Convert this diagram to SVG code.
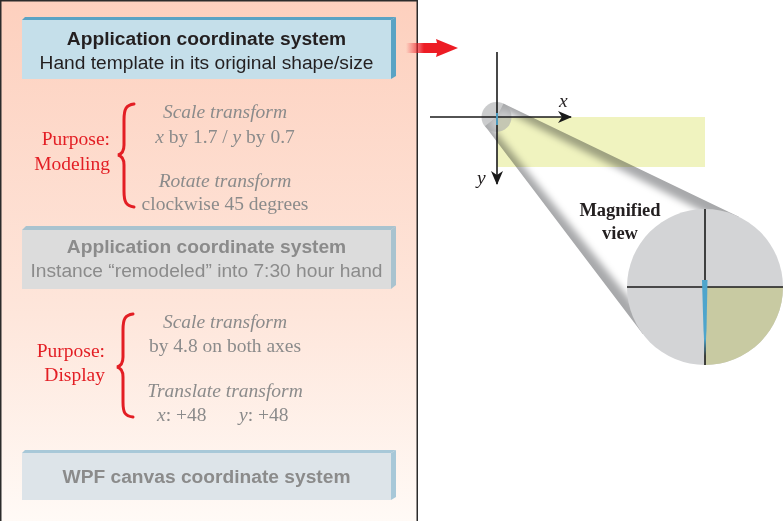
<svg xmlns="http://www.w3.org/2000/svg" width="783" height="521" viewBox="0 0 783 521">
<defs>
<linearGradient id="panelBg" x1="0" y1="0" x2="0" y2="1">
<stop offset="0" stop-color="#fdd0be"/>
<stop offset="0.6" stop-color="#fee6db"/>
<stop offset="1" stop-color="#fffaf6"/>
</linearGradient>
<linearGradient id="redFade" gradientUnits="userSpaceOnUse" x1="406" y1="0" x2="424" y2="0">
<stop offset="0" stop-color="#ed1c24" stop-opacity="0"/>
<stop offset="1" stop-color="#ed1c24"/>
</linearGradient>
<clipPath id="coneClip">
<polygon points="503.5,103.5 738.8,216.7 705,287 642.8,334.1 485,126 497,117"/>
</clipPath>
<filter id="blur" x="-20%" y="-20%" width="140%" height="140%">
<feGaussianBlur stdDeviation="3.5"/>
</filter>
<marker id="ah" viewBox="0 0 14 12" markerWidth="14" markerHeight="12" refX="13" refY="6" orient="auto" markerUnits="userSpaceOnUse">
<path d="M0,0 L14,6 L0,12 L4,6 Z" fill="#1a1a1a"/>
</marker>
<style>
.sans{font-family:"Liberation Sans",Arial,sans-serif;font-size:19.2px;text-anchor:middle}
.b{font-weight:bold}
.dark{fill:#231f20}
.grey{fill:#8b8b8b}
.ser{font-family:"Liberation Serif","Times New Roman",serif;font-size:19.5px}
.it{font-style:italic}
.red{fill:#e31e24}
.brace{fill:none;stroke:#e31e24;stroke-width:3;stroke-linecap:round}
.ax{stroke:#1a1a1a;stroke-width:1.6;fill:none}
</style>
</defs>

<g id="panel">
<rect x="0.75" y="0.75" width="416.5" height="521" fill="url(#panelBg)" stroke="#2b2b2b" stroke-width="1.5"/>
</g>

<g id="box1">
<polygon points="22,20 25,17 396,17 391,20" fill="#5aa3c4"/>
<polygon points="391,20 396,17 396,76 391,79" fill="#5aa3c4"/>
<rect x="22" y="20" width="369" height="59" fill="#c5dfea"/>
<text class="sans b dark" x="206.5" y="45">Application coordinate system</text>
<text class="sans dark" x="206.5" y="69">Hand template in its original shape/size</text>
</g>

<g id="modeling">
<text class="ser red" x="110" y="145" text-anchor="end">Purpose:</text>
<text class="ser red" x="110" y="170" text-anchor="end">Modeling</text>
<path class="brace" d="M134,104 C126,105 124,109 124,120 L124,145 C124,151 122,154 118,155 C122,156 124,159 124,165 L124,191 C124,202 126,206 134,207"/>
<text class="ser it grey" x="225" y="118" text-anchor="middle">Scale transform</text>
<text class="ser grey" x="225" y="143" text-anchor="middle"><tspan font-style="italic">x</tspan> by 1.7 / <tspan font-style="italic">y</tspan> by 0.7</text>
<text class="ser it grey" x="225" y="187" text-anchor="middle">Rotate transform</text>
<text class="ser grey" x="225" y="210" text-anchor="middle">clockwise 45 degrees</text>
</g>

<g id="box2">
<polygon points="22,230 26,226 396,226 391,230" fill="#a9c3cf"/>
<polygon points="391,230 396,226 396,285 391,289" fill="#a9c3cf"/>
<rect x="22" y="230" width="369" height="59" fill="#dcdcdc"/>
<text class="sans b grey" x="206.5" y="253">Application coordinate system</text>
<text class="sans grey" x="206.5" y="277">Instance “remodeled” into 7:30 hour hand</text>
</g>

<g id="display">
<text class="ser red" x="105" y="357" text-anchor="end">Purpose:</text>
<text class="ser red" x="105" y="381" text-anchor="end">Display</text>
<path class="brace" d="M133,314 C125,315 123,319 123,330 L123,357 C123,363 121,366 117,367 C121,368 123,371 123,377 L123,402 C123,413 125,416 133,417"/>
<text class="ser it grey" x="225" y="328" text-anchor="middle">Scale transform</text>
<text class="ser grey" x="225" y="352" text-anchor="middle">by 4.8 on both axes</text>
<text class="ser it grey" x="225" y="397" text-anchor="middle">Translate transform</text>
<text class="ser grey" x="157" y="421"><tspan font-style="italic">x</tspan>: +48</text>
<text class="ser grey" x="239" y="421"><tspan font-style="italic">y</tspan>: +48</text>
</g>

<g id="box3">
<polygon points="22,453 25,450 396,450 391,453" fill="#a8c8d8"/>
<polygon points="391,453 396,450 396,497 391,500" fill="#a8c8d8"/>
<rect x="22" y="453" width="369" height="47" fill="#dde4e9"/>
<text class="sans b grey" x="206.5" y="483">WPF canvas coordinate system</text>
</g>

<g id="redArrow">
<polygon points="406,43 437,43 436,39 458,48 436,57 437,53 406,53" fill="url(#redFade)"/>
</g>

<g id="cone">
<polygon points="503.5,103.5 738.8,216.7 705,287 642.8,334.1 485,126 497,117" fill="#a8a9ab"/>
<g clip-path="url(#coneClip)">
<polygon points="501.5,109 733,227 705,287 652,327 489,123" fill="#ffffff" filter="url(#blur)"/>
</g>
</g>

<g id="plane">
<rect x="497" y="117" width="208" height="50" fill="#f0f3bf" style="mix-blend-mode:multiply"/>
<circle cx="496.5" cy="117" r="15" fill="#a9aaac" fill-opacity="0.6"/>
</g>

<g id="connectors">
<line class="ax" x1="497" y1="52" x2="497" y2="184" marker-end="url(#ah)"/>
<line class="ax" x1="430" y1="117" x2="571" y2="117" marker-end="url(#ah)"/>
<line x1="497" y1="113" x2="497" y2="125" stroke="#4ea5cc" stroke-width="1.8"/>
</g>
<text class="ser it dark" x="559" y="107">x</text>
<text class="ser it dark" x="477" y="184">y</text>

<g id="magnified">
<circle cx="705" cy="287" r="78" fill="#d3d4d6"/>
<path d="M705,287 L783,287 A78,78 0 0 1 705,365 Z" fill="#c8caa2"/>
<line class="ax" x1="705" y1="209" x2="705" y2="365"/>
<line class="ax" x1="627" y1="287" x2="783" y2="287"/>
<polygon points="702,280 707.5,280 706.5,330 705,356 703.5,330" fill="#4ea5cc"/>
<text class="ser b dark" x="620" y="216" text-anchor="middle" style="font-size:18.5px">Magnified</text>
<text class="ser b dark" x="620" y="239" text-anchor="middle" style="font-size:18.5px">view</text>
</g>
</svg>
